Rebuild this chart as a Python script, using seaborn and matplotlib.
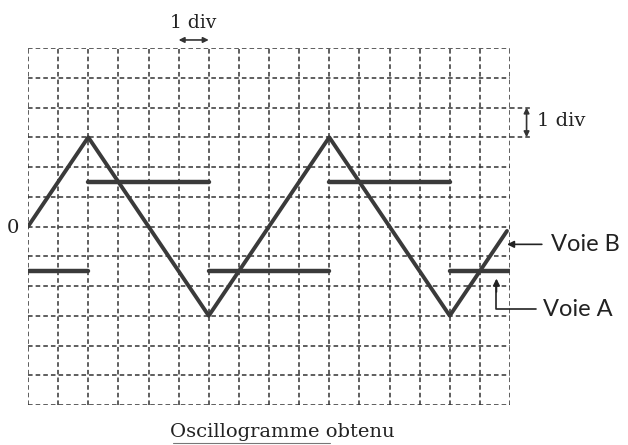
import numpy as np
import pandas as pd
import seaborn as sns
import matplotlib.pyplot as plt

# Voie B : signal triangulaire (sommets, en divisions)
b_t = [0, 2, 6, 10, 14, 15.9]
b_v = [0, 3, -3, 3, -3, -0.15]

# Voie A : signal carré (paliers horizontaux)
a_start = [0, 2, 6, 10, 14]
a_end = [2, 6, 10, 14, 16]
a_level = [-1.5, 1.5, -1.5, 1.5, -1.5]

n_xdiv = 16
y_top, y_bottom = 6, -6

sns.set_theme(style="white")
plt.rcParams['font.family'] = ['DejaVu Serif']

fig = plt.figure(figsize=(6.28, 4.45), dpi=100)
ax = fig.add_axes([28 / 628, 1 - 405 / 445, (510 - 28) / 628, (405 - 48) / 445])

# grille en pointillés
for x in range(n_xdiv + 1):
    ax.axvline(x, color="#333333", lw=1.1, ls=(0, (3, 2)), zorder=1)
for y in range(y_bottom, y_top + 1):
    ax.axhline(y, color="#333333", lw=1.1, ls=(0, (3, 2)), zorder=1)

df_b = pd.DataFrame({"t": b_t, "u": b_v})
sns.lineplot(data=df_b, x="t", y="u", sort=False, color="#3a3a3a", lw=2.8,
             ax=ax, zorder=3)

rows = []
for i, (s, e, v) in enumerate(zip(a_start, a_end, a_level)):
    rows.append({"seg": i, "t": s, "u": v})
    rows.append({"seg": i, "t": e, "u": v})
df_a = pd.DataFrame(rows)
sns.lineplot(data=df_a, x="t", y="u", units="seg", estimator=None, sort=False,
             color="#3a3a3a", lw=3.2, ax=ax, zorder=3)

ax.set_xlim(0, n_xdiv)
ax.set_ylim(y_bottom, y_top)
ax.set_xticks([])
ax.set_yticks([])
ax.set_xlabel("")
ax.set_ylabel("")
for s in ax.spines.values():
    s.set_visible(False)

# repère horizontal "1 div"
ax.annotate("", xy=(5, 6.27), xytext=(6, 6.27), xycoords="data",
            arrowprops=dict(arrowstyle="<|-|>", color="#333333", lw=1.2,
                            mutation_scale=8, shrinkA=0, shrinkB=0),
            annotation_clip=False)
ax.text(5.5, 6.55, "1 div", ha="center", va="bottom", fontsize=13.5,
        color="#222222")

# repère vertical "1 div"
for y in (3, 4):
    ax.plot([16, 16.7], [y, y], color="#333333", lw=1.1, ls=(0, (3, 2)),
            clip_on=False)
ax.annotate("", xy=(16.55, 3), xytext=(16.55, 4), xycoords="data",
            arrowprops=dict(arrowstyle="<|-|>", color="#333333", lw=1.2,
                            mutation_scale=8, shrinkA=0, shrinkB=0),
            annotation_clip=False)
ax.text(16.9, 3.55, "1 div", ha="left", va="center", fontsize=14,
        color="#222222")

ax.text(-0.3, -0.05, "0", ha="right", va="center", fontsize=14, color="#222222")

# légendes des voies
ax.annotate("Voie B", xy=(15.9, -0.6), xytext=(17.35, -0.6),
            ha="left", va="center", fontsize=17, family="Lato", color="#222222",
            arrowprops=dict(arrowstyle="-|>", color="#222222", lw=1.2,
                            mutation_scale=10, shrinkA=4, shrinkB=0),
            annotation_clip=False)
ax.plot([15.55, 15.55, 16.85], [-1.9, -2.78, -2.78], color="#222222", lw=1.2,
        clip_on=False)
ax.annotate("", xy=(15.55, -1.75), xytext=(15.55, -2.2),
            arrowprops=dict(arrowstyle="-|>", color="#222222", lw=1.2,
                            mutation_scale=10, shrinkA=0, shrinkB=0),
            annotation_clip=False)
ax.text(17.1, -2.78, "Voie A", ha="left", va="center", fontsize=17,
        family="Lato", color="#222222")

fig.text(282 / 628, 1 - 432 / 445, "Oscillogramme obtenu", ha="center",
         va="center", fontsize=14, color="#222222")
fig.add_artist(plt.Line2D([173 / 628, 330 / 628], [1 - 443 / 445] * 2,
                          color="#777777", lw=0.8))

fig.savefig("out.png", dpi=100, facecolor="white")
